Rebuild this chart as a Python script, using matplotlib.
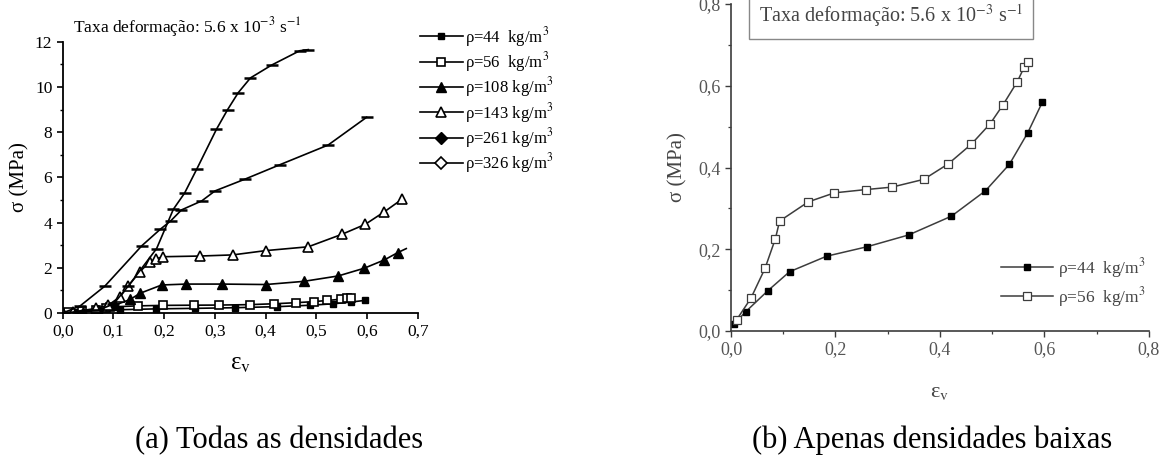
import matplotlib
matplotlib.use("Agg")
import matplotlib.pyplot as plt
from matplotlib.lines import Line2D
from matplotlib.ticker import MultipleLocator, FuncFormatter

plt.rcParams["font.family"] = ["Liberation Serif", "DejaVu Serif"]
plt.rcParams["mathtext.fontset"] = "stix"

# ---- dados ----
x44 = [0.005, 0.028, 0.070, 0.112, 0.183, 0.260, 0.340, 0.422, 0.487, 0.533, 0.568, 0.596]
y44 = [0.016, 0.047, 0.098, 0.145, 0.183, 0.206, 0.235, 0.281, 0.343, 0.408, 0.485, 0.560]

x56 = [0.011, 0.038, 0.065, 0.085, 0.093, 0.148, 0.198, 0.258, 0.308, 0.369, 0.416,
       0.460, 0.496, 0.521, 0.548, 0.561, 0.568]
y56 = [0.028, 0.080, 0.153, 0.226, 0.269, 0.316, 0.338, 0.346, 0.352, 0.371, 0.409,
       0.457, 0.507, 0.554, 0.610, 0.645, 0.659]

x108 = [0.0, 0.04, 0.07, 0.103, 0.133, 0.152, 0.195, 0.243, 0.313, 0.400, 0.475, 0.543,
        0.594, 0.634, 0.660, 0.677]
y108 = [0.0, 0.05, 0.12, 0.35, 0.60, 0.87, 1.24, 1.28, 1.28, 1.26, 1.40, 1.64,
        1.98, 2.35, 2.67, 2.85]

x143 = [0.0, 0.02, 0.065, 0.09, 0.113, 0.129, 0.152, 0.172, 0.183, 0.198, 0.270, 0.335,
        0.400, 0.484, 0.550, 0.596, 0.634, 0.669]
y143 = [0.0, 0.05, 0.20, 0.35, 0.72, 1.19, 1.83, 2.27, 2.39, 2.49, 2.52, 2.57,
        2.76, 2.93, 3.48, 3.92, 4.48, 5.04]

x261 = [0.0, 0.034, 0.083, 0.156, 0.192, 0.213, 0.234, 0.274, 0.300, 0.359, 0.428,
        0.523, 0.599]
y261 = [0.0, 0.31, 1.19, 2.98, 3.70, 4.08, 4.56, 4.96, 5.40, 5.92, 6.56, 7.43, 8.66]

x326 = [0.0, 0.03, 0.07, 0.10, 0.129, 0.185, 0.218, 0.24, 0.264, 0.303, 0.325, 0.346,
        0.37, 0.412, 0.467, 0.484]
y326 = [0.0, 0.05, 0.12, 0.40, 1.19, 2.85, 4.59, 5.3, 6.36, 8.13, 9.0, 9.75,
        10.4, 10.97, 11.6, 11.65]

labels = ["ρ=44  kg/m$^3$", "ρ=56  kg/m$^3$", "ρ=108 kg/m$^3$",
          "ρ=143 kg/m$^3$", "ρ=261 kg/m$^3$", "ρ=326 kg/m$^3$"]
rate_txt = "Taxa deformação: 5.6 x 10$^{-3}$ s$^{-1}$"

comma = FuncFormatter(lambda v, p: f"{v:.1f}".replace(".", ","))

fig = plt.figure(figsize=(11.73, 4.76), dpi=100)

# ---------------- (a) todas as densidades ----------------
ax = fig.add_axes([0.0535, 0.3424, 0.3028, 0.570])
lw = 1.2
ax.plot(x44, y44, "-", color="black", lw=lw, marker="s", ms=4.5, mfc="black", mec="black")
ax.plot(x56, y56, "-", color="black", lw=lw, marker="s", ms=6, mfc="white", mec="black", mew=1.2)
ax.plot(x108, y108, "-", color="black", lw=lw, marker="^", ms=7, mfc="black", mec="black",
        markevery=slice(0, len(x108) - 1))
ax.plot(x143, y143, "-", color="black", lw=lw, marker="^", ms=7, mfc="white", mec="black", mew=1.2)
# na figura original os losangos aparecem achatados, como traços
ax.plot(x261, y261, "-", color="black", lw=lw, marker="_", ms=9, mew=1.8, mec="black")
ax.plot(x326, y326, "-", color="black", lw=lw, marker="_", ms=9, mew=1.8, mec="black")

ax.set_xlim(0, 0.7)
ax.set_ylim(0, 12)
ax.xaxis.set_major_locator(MultipleLocator(0.1))
ax.xaxis.set_major_formatter(comma)
ax.yaxis.set_major_locator(MultipleLocator(2))
ax.yaxis.set_minor_locator(MultipleLocator(1))
ax.spines["top"].set_visible(False)
ax.spines["right"].set_visible(False)
ax.spines["left"].set_linewidth(1.3)
ax.spines["bottom"].set_linewidth(1.3)
ax.tick_params(which="major", direction="out", length=4, width=1.2, labelsize=12.5)
ax.tick_params(which="minor", direction="out", length=2.5, width=1.0)
ax.set_ylabel("σ (MPa)", fontsize=15, labelpad=4)
ax.set_xlabel("ε$_{\\mathrm{v}}$", fontsize=18, labelpad=10)
ax.text(0.02, 12.65, rate_txt, fontsize=12.5, ha="left", va="center")

handles = [
    Line2D([], [], color="black", lw=lw, marker="s", ms=5, mfc="black"),
    Line2D([], [], color="black", lw=lw, marker="s", ms=6, mfc="white", mew=1.2),
    Line2D([], [], color="black", lw=lw, marker="^", ms=7, mfc="black"),
    Line2D([], [], color="black", lw=lw, marker="^", ms=7, mfc="white", mew=1.2),
    Line2D([], [], color="black", lw=lw, marker="D", ms=6, mfc="black"),
    Line2D([], [], color="black", lw=lw, marker="D", ms=6, mfc="white", mew=1.2),
]
fig.legend(handles, labels, loc="upper left", bbox_to_anchor=(0.352, 0.962),
           frameon=False, fontsize=12, handlelength=2.6, handletextpad=0.1,
           labelspacing=0.08, borderaxespad=0)

# ---------------- (b) apenas densidades baixas ----------------
gray = "#3c3c3c"
bx = fig.add_axes([0.6232, 0.3046, 0.3563, 0.687])
bx.plot(x44, y44, "-", color=gray, lw=1.1, marker="s", ms=5, mfc="black", mec="black",
        label="ρ=44  kg/m$^3$")
bx.plot(x56, y56, "-", color=gray, lw=1.1, marker="s", ms=5.5, mfc="white", mec=gray, mew=0.9,
        label="ρ=56  kg/m$^3$")
bx.set_xlim(0, 0.8)
bx.set_ylim(0, 0.8)
bx.xaxis.set_major_locator(MultipleLocator(0.2))
bx.xaxis.set_minor_locator(MultipleLocator(0.1))
bx.yaxis.set_major_locator(MultipleLocator(0.2))
bx.yaxis.set_minor_locator(MultipleLocator(0.1))
bx.xaxis.set_major_formatter(comma)
bx.yaxis.set_major_formatter(comma)
bx.spines["top"].set_visible(False)
bx.spines["right"].set_visible(False)
for s in ("left", "bottom"):
    bx.spines[s].set_color(gray)
    bx.spines[s].set_linewidth(1.2)
bx.tick_params(which="major", direction="out", length=4, width=1.0, colors=gray,
               labelsize=13, labelcolor="#555555")
bx.tick_params(which="minor", direction="out", length=2.5, width=0.9, colors=gray)
bx.set_ylabel("σ (MPa)", fontsize=15, color="#444444", labelpad=8)
bx.set_xlabel("ε$_{\\mathrm{v}}$", fontsize=16, color="#444444", labelpad=18)
bx.text(0.306, 0.773, rate_txt, fontsize=14.5, color="#444444", ha="center", va="center",
        bbox=dict(boxstyle="square,pad=0.5", fc="white", ec="#888888", lw=1.0))
bx.legend(loc="lower right", bbox_to_anchor=(1.03, 0.02), frameon=False, fontsize=12.5,
          handlelength=3.0, handletextpad=0.3, labelspacing=0.3, labelcolor="#444444")

fig.text(0.238, 0.075, "(a) Todas as densidades", fontsize=22, ha="center", va="center")
fig.text(0.795, 0.075, "(b) Apenas densidades baixas", fontsize=22, ha="center", va="center")

fig.savefig("out.png", dpi=100)
